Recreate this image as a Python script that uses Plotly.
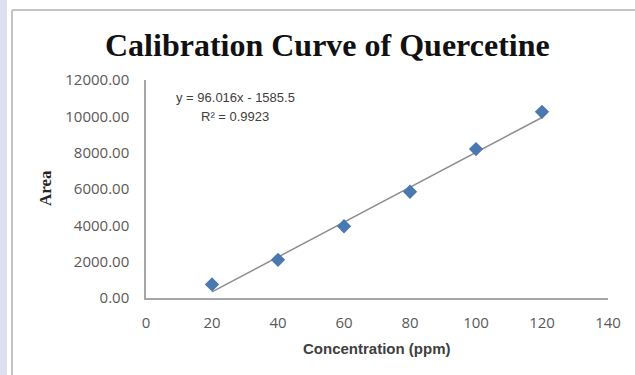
import plotly.graph_objects as go

# Data
concentration = [20, 40, 60, 80, 100, 120]
area = [750, 2100, 3950, 5850, 8200, 10250]
slope = 96.016
intercept = -1585.5
r2 = 0.9923
title_text = "Calibration Curve of Quercetine"
x_title = "Concentration (ppm)"
y_title = "Area"
y_ticks = [0, 2000, 4000, 6000, 8000, 10000, 12000]
x_ticks = [0, 20, 40, 60, 80, 100, 120, 140]

trend_x = [min(concentration), max(concentration)]
trend_y = [slope * v + intercept for v in trend_x]

W, H = 635, 375
L, R, T, B = 146, 27, 80, 77
pw, ph = W - L - R, H - T - B

def px(xp):
    return (xp - L) / pw

def py(yp):
    return (H - B - yp) / ph

fig = go.Figure()
fig.add_trace(go.Scatter(x=trend_x, y=trend_y, mode="lines",
                         line=dict(color="#8f8f8f", width=1.5),
                         hoverinfo="skip", showlegend=False))
fig.add_trace(go.Scatter(x=concentration, y=area, mode="markers",
                         marker=dict(symbol="diamond", size=11, color="#4a78b0",
                                     line=dict(width=0)),
                         showlegend=False))

tick_font = dict(family="Open Sans", size=15, color="#595959")

fig.update_xaxes(range=[0, 140], tickvals=x_ticks, ticktext=[str(v) for v in x_ticks],
                 showgrid=False, zeroline=False, showline=True, linecolor="#a6a6a6",
                 linewidth=1.5, ticks="", tickfont=tick_font, ticklabelstandoff=10,
                 fixedrange=True)
fig.update_yaxes(range=[0, 12000], tickvals=y_ticks,
                 ticktext=[f"{v:.2f}" for v in y_ticks],
                 showgrid=False, zeroline=False, showline=True, linecolor="#a6a6a6",
                 linewidth=1.5, ticks="", tickfont=tick_font, ticklabelstandoff=12,
                 fixedrange=True)

shapes = [
    dict(type="rect", xref="paper", yref="paper", x0=px(0), x1=px(7), y0=py(375), y1=py(0),
         fillcolor="#dde0f1", line=dict(width=0), layer="below"),
    dict(type="line", xref="paper", yref="paper", x0=px(12), x1=px(12), y0=py(375), y1=py(10),
         line=dict(color="#c4c4c4", width=2)),
    dict(type="line", xref="paper", yref="paper", x0=px(12), x1=px(635), y0=py(10), y1=py(10),
         line=dict(color="#c4c4c4", width=2)),
]

annotations = [
    dict(text=f"<b>{title_text}</b>", xref="paper", yref="paper", x=px(327), y=py(45),
         showarrow=False, font=dict(family="Liberation Serif", size=32, color="#111111"),
         xanchor="center", yanchor="middle"),
    dict(text=f"<b>{y_title}</b>", xref="paper", yref="paper", x=px(45), y=py(188),
         showarrow=False, textangle=-90,
         font=dict(family="Liberation Serif", size=17, color="#262626"),
         xanchor="center", yanchor="middle"),
    dict(text=f"<b>{x_title}</b>", xref="paper", yref="paper", x=px(377), y=py(348),
         showarrow=False, font=dict(family="Liberation Sans", size=15, color="#404040"),
         xanchor="center", yanchor="middle"),
    dict(text=f"y = {slope}x - {abs(intercept)}", xref="paper", yref="paper",
         x=px(235), y=py(98), showarrow=False,
         font=dict(family="Liberation Sans", size=13, color="#404040"),
         xanchor="center", yanchor="middle"),
    dict(text=f"R² = {r2}", xref="paper", yref="paper",
         x=px(235), y=py(116), showarrow=False,
         font=dict(family="Liberation Sans", size=13, color="#404040"),
         xanchor="center", yanchor="middle"),
]

fig.update_layout(width=W, height=H, margin=dict(l=L, r=R, t=T, b=B, pad=0),
                  paper_bgcolor="white", plot_bgcolor="white",
                  shapes=shapes, annotations=annotations, showlegend=False)

fig.write_html("out.html", config={"displayModeBar": False})
